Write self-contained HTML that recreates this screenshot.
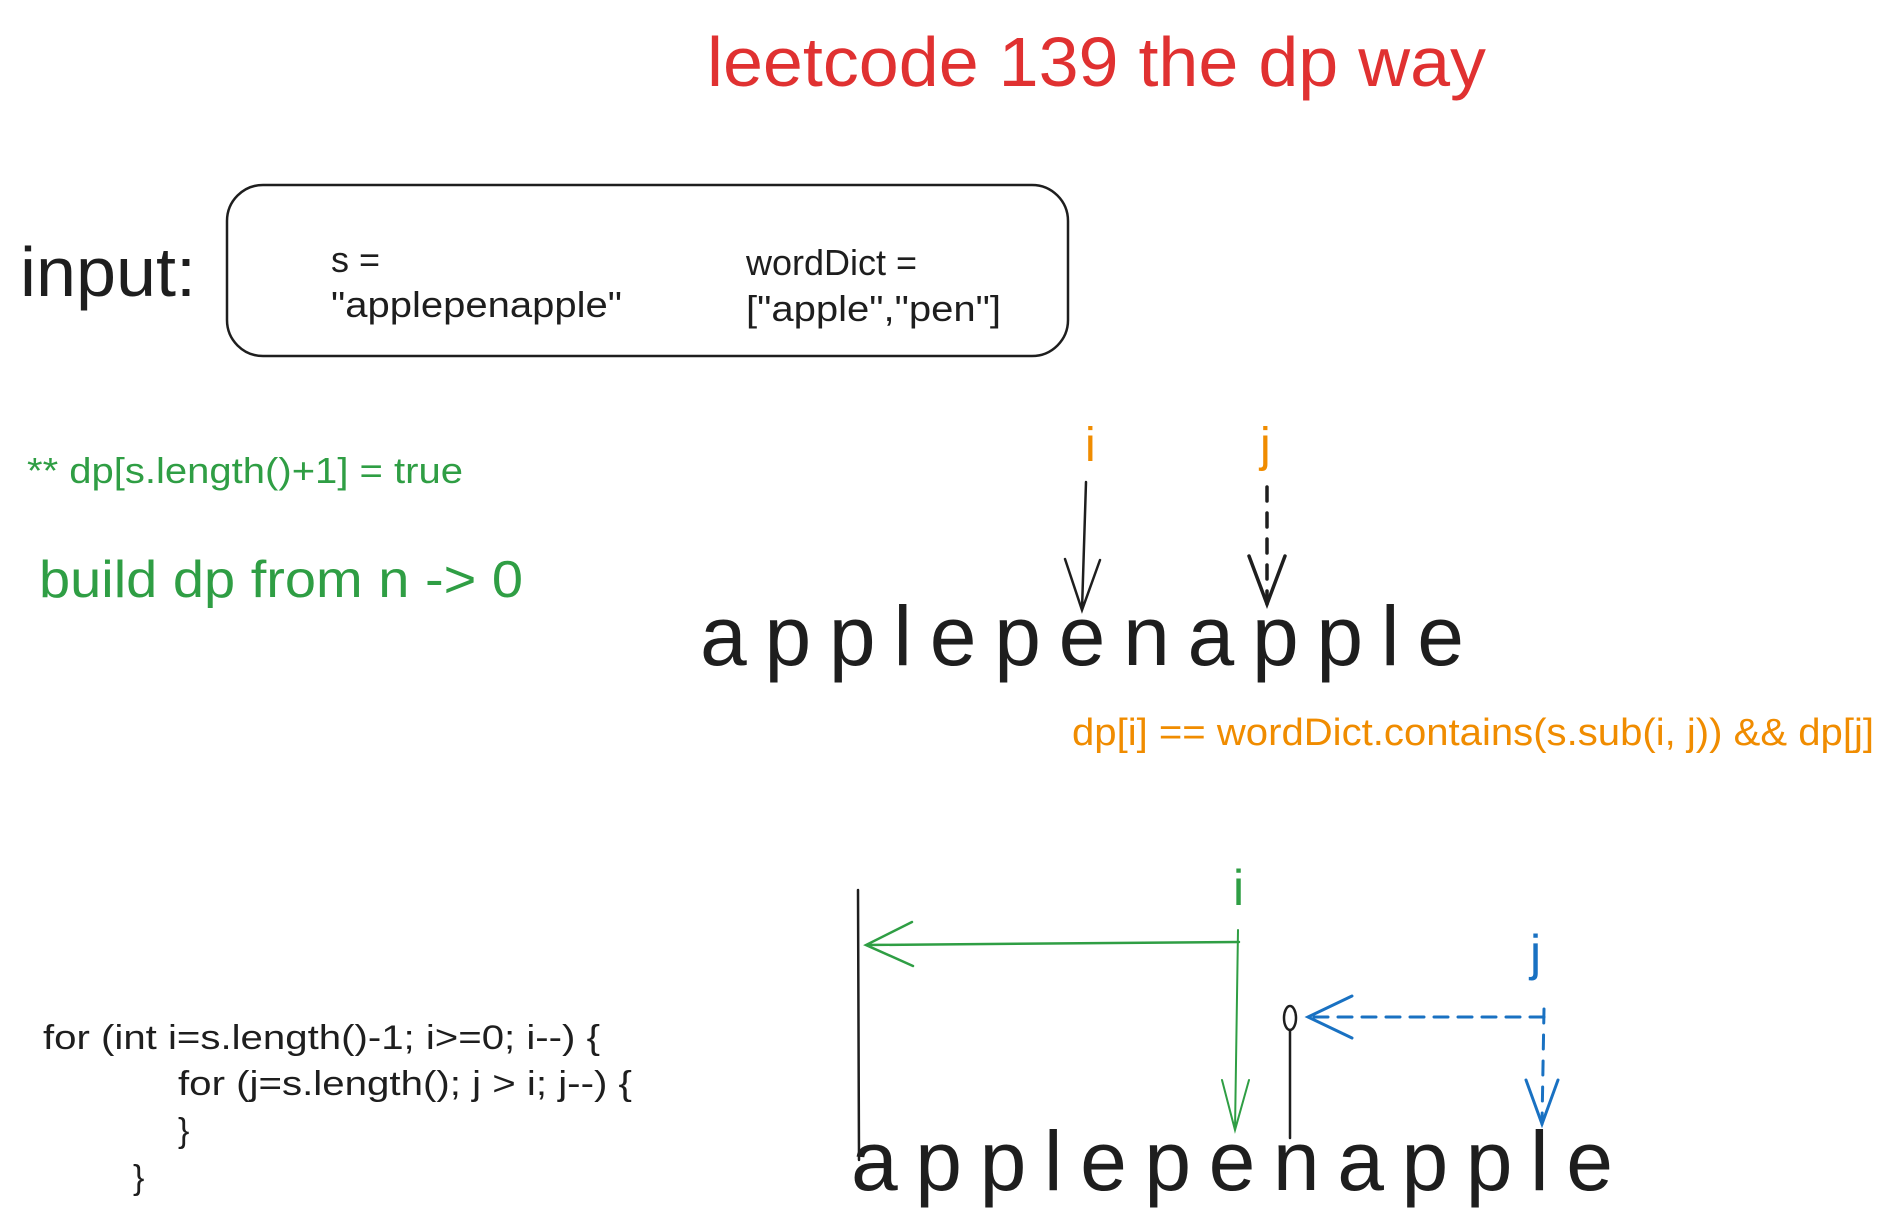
<!DOCTYPE html>
<html><head><meta charset="utf-8"><style>
html,body{margin:0;padding:0;background:#fff;}
svg{display:block;font-family:"Liberation Sans",Arial,sans-serif;}
</style></head><body>
<svg width="1885" height="1220" viewBox="0 0 1885 1220" xmlns="http://www.w3.org/2000/svg">
<rect width="1885" height="1220" fill="#fff"/>
<text x="707" y="86" font-size="70" fill="#e03131" textLength="779" lengthAdjust="spacingAndGlyphs">leetcode 139 the dp way</text>

<text x="20" y="296" font-size="70" fill="#1e1e1e" textLength="176" lengthAdjust="spacingAndGlyphs">input:</text>
<rect x="227" y="185" width="841" height="171" rx="36" ry="36" fill="none" stroke="#1e1e1e" stroke-width="2.5"/>
<text x="331" y="272" font-size="36" fill="#1e1e1e">s =</text>
<text x="331" y="317" font-size="36" fill="#1e1e1e" textLength="291" lengthAdjust="spacingAndGlyphs">"applepenapple"</text>
<text x="746" y="275" font-size="36" fill="#1e1e1e">wordDict =</text>
<text x="746" y="321" font-size="36" fill="#1e1e1e" textLength="255" lengthAdjust="spacingAndGlyphs">["apple","pen"]</text>

<text x="27" y="483" font-size="36" fill="#2f9e44" textLength="436" lengthAdjust="spacingAndGlyphs">** dp[s.length()+1] = true</text>
<text x="39" y="597" font-size="52" fill="#2f9e44" textLength="484" lengthAdjust="spacingAndGlyphs">build dp from n -&gt; 0</text>

<text x="1085" y="461" font-size="48" fill="#f08c00">i</text>
<text x="1260" y="461" font-size="48" fill="#f08c00">j</text>
<g stroke="#1e1e1e" stroke-width="2.5" fill="none" stroke-linecap="round">
<path d="M1086 482 L1082 610 M1065 559 L1082 610 L1100 560"/>
<path d="M1267 487 L1267 604" stroke-dasharray="14 12" stroke-width="3.5"/>
<path d="M1249 556 L1267 604 L1285 556" stroke-width="3.5"/>
</g>
<text x="700" y="665" font-size="84" fill="#1e1e1e" textLength="764" lengthAdjust="spacing">a p p l e p e n a p p l e</text>

<text x="1072" y="745" font-size="38" fill="#f08c00" textLength="802" lengthAdjust="spacingAndGlyphs">dp[i] == wordDict.contains(s.sub(i, j)) &amp;&amp; dp[j]</text>

<text x="1233" y="905" font-size="50" fill="#2f9e44">i</text>
<text x="1530" y="970" font-size="50" fill="#1971c2">j</text>
<g fill="none" stroke-linecap="round">
<path d="M858 890 L859 1160" stroke="#1e1e1e" stroke-width="2.5"/>
<path d="M1239 942 L866 945 M912 922 L866 945 L913 966" stroke="#2f9e44" stroke-width="2.5"/>
<path d="M1238 930 L1235 1130 M1222 1080 L1235 1130 L1249 1080" stroke="#2f9e44" stroke-width="2"/>
<path d="M1544 1017 L1310 1017" stroke="#1971c2" stroke-width="3" stroke-dasharray="14 10"/>
<path d="M1352 996 L1308 1017 L1352 1038" stroke="#1971c2" stroke-width="3"/>
<path d="M1544 1009 L1542 1124" stroke="#1971c2" stroke-width="3" stroke-dasharray="14 12"/>
<path d="M1526 1080 L1542 1124 L1558 1080" stroke="#1971c2" stroke-width="3"/>
<ellipse cx="1290" cy="1018" rx="6" ry="12" stroke="#1e1e1e" stroke-width="2.5"/>
<path d="M1290 1030 L1290 1138" stroke="#1e1e1e" stroke-width="2.5"/>
</g>
<text x="851" y="1190" font-size="84" fill="#1e1e1e" textLength="762" lengthAdjust="spacing">a p p l e p e n a p p l e</text>

<g font-size="34" fill="#1e1e1e">
<text x="43" y="1049" textLength="557" lengthAdjust="spacingAndGlyphs">for (int i=s.length()-1; i&gt;=0; i--) {</text>
<text x="178" y="1095" textLength="454" lengthAdjust="spacingAndGlyphs">for (j=s.length(); j &gt; i; j--) {</text>
<text x="178" y="1142">}</text>
<text x="133" y="1189">}</text>
</g>
</svg>
</body></html>
